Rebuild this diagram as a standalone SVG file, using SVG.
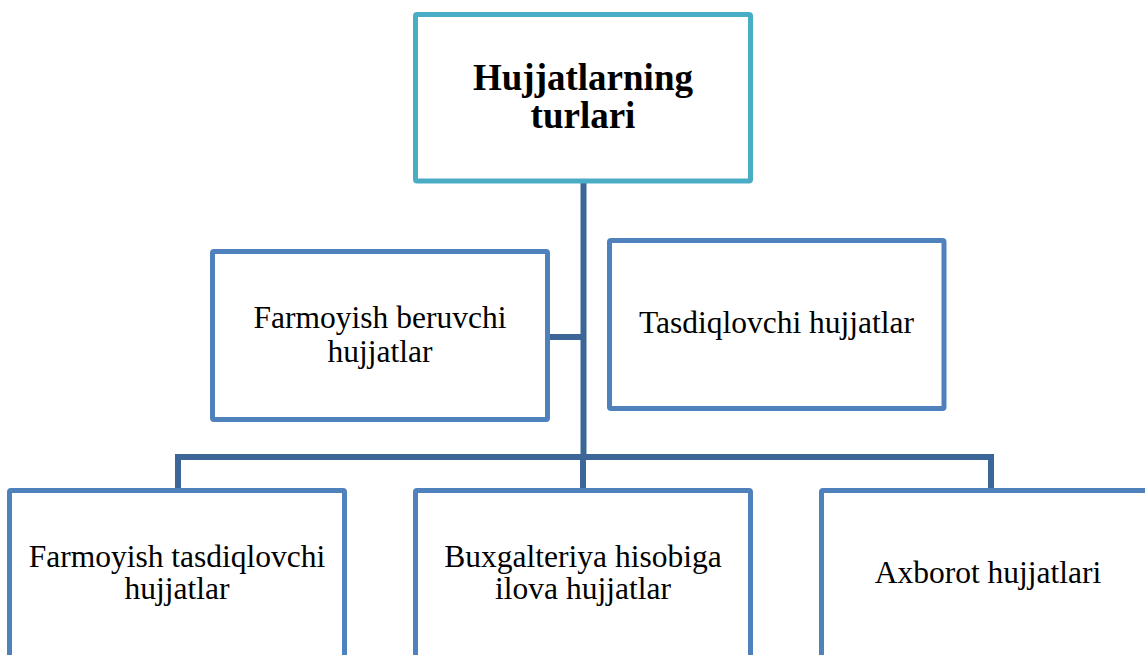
<svg xmlns="http://www.w3.org/2000/svg" width="1145" height="655" viewBox="0 0 1145 655">
  <style>
    .box { fill: #ffffff; stroke: #4f81bd; stroke-width: 5; }
    .root { fill: #ffffff; stroke: #4bacc6; stroke-width: 5; }
    .link { fill: none; stroke: #3d6698; stroke-width: 6; stroke-linejoin: miter; }
    .lbl { font-family: "Liberation Serif", "Times New Roman", serif; font-size: 31.5px; fill: #000000; text-anchor: middle; }
    .title { font-family: "Liberation Serif", "Times New Roman", serif; font-size: 37px; font-weight: bold; fill: #000000; text-anchor: middle; }
  </style>

  <!-- connectors -->
  <g id="connectors">
    <path class="link" d="M583.5 183 V457"/>
    <path class="link" d="M550 337 H583.5"/>
    <path class="link" d="M178 490 V457 H991 V490"/>
    <path class="link" d="M583 457 V490"/>
  </g>

  <g id="node-root">
    <rect class="root" x="415.5" y="14.5" width="335" height="166.5" rx="1.5"/>
    <text class="title" x="583" y="90">Hujjatlarning</text>
    <text class="title" x="583" y="128">turlari</text>
  </g>

  <g id="node-farmoyish-beruvchi">
    <rect class="box" x="212.5" y="251.5" width="335" height="168" rx="1.5"/>
    <text class="lbl" x="380" y="328">Farmoyish beruvchi</text>
    <text class="lbl" x="380" y="361.5">hujjatlar</text>
  </g>

  <g id="node-tasdiqlovchi">
    <rect class="box" x="609.5" y="240.5" width="334.5" height="168" rx="1.5"/>
    <text class="lbl" x="776.5" y="333">Tasdiqlovchi hujjatlar</text>
  </g>

  <g id="node-farmoyish-tasdiqlovchi">
    <rect class="box" x="9.5" y="490.5" width="335" height="168" rx="1.5"/>
    <text class="lbl" x="177" y="566.5">Farmoyish tasdiqlovchi</text>
    <text class="lbl" x="177" y="599">hujjatlar</text>
  </g>

  <g id="node-buxgalteriya">
    <rect class="box" x="415.5" y="490.5" width="335" height="168" rx="1.5"/>
    <text class="lbl" x="583" y="566.5">Buxgalteriya hisobiga</text>
    <text class="lbl" x="583" y="599">ilova hujjatlar</text>
  </g>

  <g id="node-axborot">
    <rect class="box" x="821.5" y="490.5" width="335" height="168" rx="1.5"/>
    <text class="lbl" x="988" y="583">Axborot hujjatlari</text>
  </g>
</svg>
